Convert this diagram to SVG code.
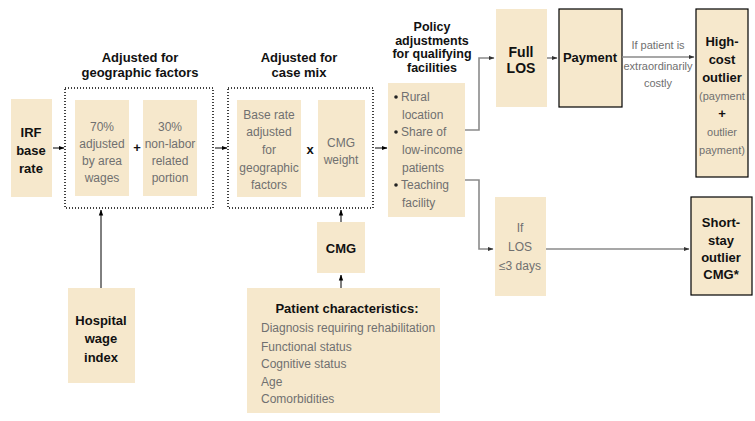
<svg xmlns="http://www.w3.org/2000/svg" width="755" height="421" viewBox="0 0 755 421">
<defs>
<marker id="ab" markerWidth="6" markerHeight="6" refX="5.5" refY="3" orient="auto" markerUnits="userSpaceOnUse"><path d="M0,0.8 L6,3 L0,5.2 z" fill="#000"/></marker>
<marker id="ag" markerWidth="6" markerHeight="6" refX="5.5" refY="3" orient="auto" markerUnits="userSpaceOnUse"><path d="M0,0.8 L6,3 L0,5.2 z" fill="#333"/></marker>
</defs>
<style>
.box{fill:#f6e8cc}
.bb{fill:#f6e8cc;stroke:#000;stroke-width:1.2}
.dot{fill:none;stroke:#000;stroke-width:1.5;stroke-dasharray:1 2}
.h{font-family:"Liberation Sans",Arial,sans-serif;font-weight:bold;font-size:13px;fill:#111;text-anchor:middle}
.t{font-family:"Liberation Sans",Arial,sans-serif;font-size:12px;fill:#707070;text-anchor:middle}
.tl{font-family:"Liberation Sans",Arial,sans-serif;font-size:12px;fill:#707070}
.s{font-family:"Liberation Sans",Arial,sans-serif;font-size:11px;fill:#707070;text-anchor:middle}
.k{stroke:#000;stroke-width:1;fill:none}
.g{stroke:#8a8a8a;stroke-width:1.6;fill:none}
</style>
<rect width="755" height="421" fill="#fff"/>
<g id="titles">
<text class="h" x="140" y="62">Adjusted for</text>
<text class="h" x="140" y="77">geographic factors</text>
<text class="h" x="299" y="62">Adjusted for</text>
<text class="h" x="299" y="77">case mix</text>
<text class="h" x="432" y="31" style="font-size:12.5px">Policy</text>
<text class="h" x="432" y="45" style="font-size:12.5px">adjustments</text>
<text class="h" x="432" y="58" style="font-size:12.5px">for qualifying</text>
<text class="h" x="432" y="72" style="font-size:12.5px">facilities</text>
</g>
<g id="irf">
<rect class="box" x="11" y="99" width="41" height="98"/>
<text class="h" x="31" y="137">IRF</text>
<text class="h" x="31" y="155">base</text>
<text class="h" x="31" y="173">rate</text>
</g>
<g id="geo">
<rect class="dot" x="65" y="88" width="148" height="120"/>
<rect class="box" x="75" y="100" width="54" height="96"/>
<text class="t" x="102" y="131">70%</text>
<text class="t" x="102" y="148">adjusted</text>
<text class="t" x="102" y="165">by area</text>
<text class="t" x="102" y="182">wages</text>
<text class="h" x="137" y="152">+</text>
<rect class="box" x="143" y="100" width="54" height="96"/>
<text class="t" x="170" y="131">30%</text>
<text class="t" x="170" y="148">non-labor</text>
<text class="t" x="170" y="165">related</text>
<text class="t" x="170" y="182">portion</text>
</g>
<g id="casemix">
<rect class="dot" x="228" y="88" width="145" height="120"/>
<rect class="box" x="237" y="100" width="64" height="97"/>
<text class="t" x="269" y="119">Base rate</text>
<text class="t" x="269" y="136">adjusted</text>
<text class="t" x="269" y="154">for</text>
<text class="t" x="269" y="172">geographic</text>
<text class="t" x="269" y="189">factors</text>
<text class="h" x="310" y="154">x</text>
<rect class="box" x="318" y="100" width="47" height="97"/>
<text class="t" x="341" y="147">CMG</text>
<text class="t" x="341" y="164">weight</text>
</g>
<g id="policy">
<rect class="box" x="388" y="83" width="77" height="134"/>
<circle cx="396" cy="97" r="1.8" fill="#222"/>
<text class="tl" x="401" y="101">Rural</text>
<text class="tl" x="402" y="119">location</text>
<circle cx="396" cy="132" r="1.8" fill="#222"/>
<text class="tl" x="401" y="136">Share of</text>
<text class="tl" x="402" y="154">low-income</text>
<text class="tl" x="402" y="172">patients</text>
<circle cx="396" cy="185" r="1.8" fill="#222"/>
<text class="tl" x="401" y="189">Teaching</text>
<text class="tl" x="402" y="207">facility</text>
</g>
<g id="fulllos">
<rect class="box" x="496" y="9" width="51" height="98"/>
<text class="h" x="521" y="57" style="font-size:14px">Full</text>
<text class="h" x="521" y="73" style="font-size:14px">LOS</text>
</g>
<g id="payment">
<rect class="bb" x="559" y="9" width="63" height="98"/>
<text class="h" x="590" y="62">Payment</text>
</g>
<g id="highcost">
<rect class="bb" x="696" y="9" width="52" height="168"/>
<text class="h" x="722" y="46">High-</text>
<text class="h" x="722" y="64">cost</text>
<text class="h" x="722" y="82">outlier</text>
<text class="t" x="722" y="100" style="font-size:11px">(payment</text>
<text class="h" x="722" y="118">+</text>
<text class="t" x="722" y="136" style="font-size:11px">outlier</text>
<text class="t" x="722" y="154" style="font-size:11px">payment)</text>
</g>
<g id="iflos">
<rect class="box" x="495" y="197" width="51" height="99"/>
<text class="t" x="520" y="232">If</text>
<text class="t" x="520" y="251">LOS</text>
<text class="t" x="520" y="270">≤3 days</text>
</g>
<g id="shortstay">
<rect class="bb" x="691" y="197" width="61" height="98"/>
<text class="h" x="721" y="227">Short-</text>
<text class="h" x="721" y="245">stay</text>
<text class="h" x="721" y="262">outlier</text>
<text class="h" x="721" y="279">CMG*</text>
</g>
<g id="cmg">
<rect class="box" x="317" y="222" width="48" height="51"/>
<text class="h" x="341" y="253">CMG</text>
</g>
<g id="patient">
<rect class="box" x="247" y="288" width="193" height="125"/>
<text class="h" x="347" y="313">Patient characteristics:</text>
<text class="tl" x="261" y="332">Diagnosis requiring rehabilitation</text>
<text class="tl" x="261" y="351">Functional status</text>
<text class="tl" x="261" y="368">Cognitive status</text>
<text class="tl" x="261" y="386">Age</text>
<text class="tl" x="261" y="403">Comorbidities</text>
</g>
<g id="wage">
<rect class="box" x="68" y="288" width="67" height="95"/>
<text class="h" x="101" y="325">Hospital</text>
<text class="h" x="101" y="343">wage</text>
<text class="h" x="101" y="362">index</text>
</g>
<g id="connectors">
<line class="k" x1="53" y1="148" x2="64" y2="148" marker-end="url(#ab)"/>
<line class="k" x1="215" y1="148" x2="227" y2="148" marker-end="url(#ab)"/>
<line class="k" x1="375" y1="148" x2="387" y2="148" marker-end="url(#ab)"/>
<polyline class="g" points="465,130 479,130 479,58 494,58" marker-end="url(#ag)"/>
<polyline class="g" points="465,180 479,180 479,249 493,249" marker-end="url(#ag)"/>
<line class="g" x1="547" y1="58" x2="557" y2="58" marker-end="url(#ag)"/>
<line class="g" x1="622" y1="57" x2="694" y2="57" marker-end="url(#ag)"/>
<line class="g" x1="546" y1="249" x2="689" y2="249" marker-end="url(#ag)"/>
<line class="k" x1="101" y1="288" x2="101" y2="210" marker-end="url(#ab)"/>
<line class="k" x1="341" y1="222" x2="341" y2="210" marker-end="url(#ab)"/>
<line class="k" x1="341" y1="288" x2="341" y2="275" marker-end="url(#ab)"/>
<text class="s" x="658" y="49">If patient is</text>
<text class="s" x="658" y="70">extraordinarily</text>
<text class="s" x="658" y="87">costly</text>
</g>
</svg>
